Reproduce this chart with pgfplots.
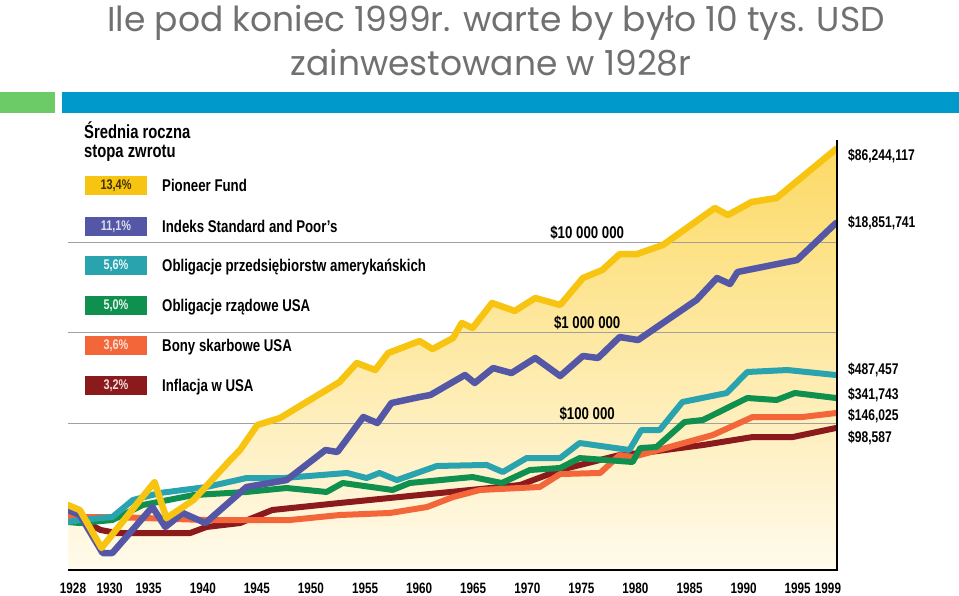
\documentclass[border=0pt]{standalone}
\usepackage{fontspec}
\usepackage{pgfplots}
\usepackage{pgfplotstable}
\pgfplotsset{compat=1.18}
\setmainfont{Liberation Sans}
\newfontfamily\cond[FakeStretch=0.78]{Liberation Sans}
\newfontfamily\titlefont{Poppins}

\definecolor{cPio}{HTML}{F7C511}
\definecolor{cSP}{HTML}{5457A6}
\definecolor{cCorp}{HTML}{29A3AE}
\definecolor{cGov}{HTML}{10904F}
\definecolor{cBill}{HTML}{F2663A}
\definecolor{cInf}{HTML}{8B1A1D}
\definecolor{fillTop}{HTML}{FCDA66}
\definecolor{fillBot}{HTML}{FFFAEC}
\definecolor{gridgray}{HTML}{A0A0A0}
\definecolor{titlegray}{HTML}{707070}
\definecolor{barGreen}{HTML}{6CCB66}
\definecolor{barBlue}{HTML}{0099CC}

% wartosc 10 000 USD z 1928 r. (skala log, odczyt z wykresu)
\pgfplotstableread{
year val
1928.0 12400
1929.1 10900
1931.1 4160
1936.0 22300
1937.1 8900
1939.6 14100
1943.0 39000
1943.9 50300
1945.5 95000
1947.6 113500
1953.1 283800
1954.7 460000
1956.4 385000
1957.6 593000
1960.5 805000
1961.7 657000
1963.6 869000
1964.4 1274000
1965.4 1122000
1967.2 2118000
1969.3 1730000
1971.2 2405000
1973.5 2014000
1975.6 4000000
1977.4 4910000
1979.0 7360000
1980.6 7360000
1983.0 9270000
1987.8 23770000
1989.0 19870000
1991.2 27700000
1993.5 30600000
1999.0 106600000
}\pio

\pgfplotstableread{
year val
1928.0 10940
1929.1 9620
1931.2 3660
1932.1 3660
1935.8 11800
1937.0 7100
1938.6 10140
1940.7 7850
1944.5 19630
1948.2 23400
1951.8 50300
1952.9 47800
1955.3 116500
1956.6 100000
1957.9 166300
1960.5 193700
1961.5 203900
1964.7 339000
1965.6 276700
1967.3 405000
1969.0 356600
1971.2 523000
1973.5 330600
1975.6 550000
1977.0 523000
1979.0 891000
1980.7 826000
1986.1 2286000
1988.0 4000000
1989.2 3436000
1989.9 4660000
1995.4 6320000
1999.0 16220000
}\sp

\pgfplotstableread{
year val
1928.0 8050
1929.1 8470
1932.1 9150
1934.0 14100
1936.5 16860
1940.8 19630
1944.5 24660
1947.9 24660
1953.8 28050
1955.6 24660
1956.8 28050
1958.4 23400
1962.1 33500
1966.7 34400
1968.2 28750
1970.4 41000
1973.5 41000
1975.3 60100
1979.9 50300
1981.0 83700
1982.7 83700
1984.8 170600
1988.9 214500
1990.8 366200
1994.5 385000
1999.0 339000
}\corp

\pgfplotstableread{
year val
1928.0 8050
1929.1 7850
1932.1 8470
1934.9 12400
1939.6 16000
1944.5 17300
1948.2 19130
1951.9 17300
1953.4 21730
1958.0 18200
1959.6 21730
1962.4 23400
1965.4 25300
1968.1 21730
1970.7 30250
1973.5 31840
1975.3 41000
1980.2 37070
1980.9 52900
1982.4 54300
1985.0 102600
1986.7 108000
1990.8 188900
1993.5 179500
1995.2 214500
1999.0 188900
}\gov

\pgfplotstableread{
year val
1928.0 9150
1932.1 9150
1940.8 8470
1948.5 8470
1953.1 9620
1957.8 10140
1961.2 11800
1962.4 13400
1963.6 15200
1966.1 18200
1971.6 19630
1973.5 27300
1977.2 28050
1979.0 44300
1980.2 42100
1983.6 54300
1987.6 73600
1991.3 116500
1995.9 116500
1999.0 128900
}\bill

\pgfplotstableread{
year val
1928.0 10140
1931.0 6580
1932.5 6090
1939.3 6090
1940.8 7100
1943.9 7850
1946.9 10940
1953.1 13060
1962.4 16860
1965.2 18200
1969.8 20650
1973.5 30250
1979.0 44300
1981.8 47800
1986.7 57100
1991.3 70000
1995.0 70000
1999.0 88100
}\inf

\begin{document}
\begin{tikzpicture}[x=1pt,y=1pt]
\useasboundingbox (0,0) rectangle (959,595);

% naglowek slajdu
\node[anchor=base, text=titlegray, font=\titlefont\fontsize{34.5}{34.5}\selectfont]
  at (496,563) {Ile pod koniec 1999r. warte by było 10 tys. USD};
\node[anchor=base, text=titlegray, font=\titlefont\fontsize{34.5}{34.5}\selectfont]
  at (491,519) {zainwestowane w 1928r};
\fill[barGreen] (0,482) rectangle (55,503);
\fill[barBlue] (62,482) rectangle (959,503);

\begin{axis}[
    at={(68pt,25pt)}, anchor=south west,
    scale only axis, width=768pt, height=430pt,
    xmin=1928, xmax=1999,
    ymode=log, ymin=2376, ymax=1.34e8,
    axis line style={draw=none},
    major tick length=0pt, minor tick length=0pt,
    tick style={draw=none},
    ytick={1e5,1e6,1e7}, yticklabels={}, minor ytick={},
    xtick={1928,1930,1935,1940,1945,1950,1955,1960,1965,1970,1975,1980,1985,1990,1995,1999},
    xticklabels={1928,\hspace*{30pt}1930,1935,1940,1945,1950,1955,1960,1965,1970,1975,1980,1985,1990,1995,1999\hspace*{26pt}},
    xticklabel style={font=\cond\bfseries\fontsize{15}{15}\selectfont, anchor=center, yshift=-18pt, xshift=5pt},
    clip mode=individual,
    every axis plot/.append style={line join=round, line cap=round},
  ]
  \addplot[draw=none, top color=fillTop, bottom color=fillBot]
    table[x=year, y=val] {\pio} |- (axis cs:1928,2376) -- cycle;

  \draw[gridgray, line width=0.8pt] (axis cs:1928,1e5) -- (axis cs:1999,1e5);
  \draw[gridgray, line width=0.8pt] (axis cs:1928,1e6) -- (axis cs:1999,1e6);
  \draw[gridgray, line width=0.8pt] (axis cs:1928,1e7) -- (axis cs:1999,1e7);

  \addplot[cInf, line width=6pt] table[x=year, y=val] {\inf};
  \addplot[cBill, line width=6pt] table[x=year, y=val] {\bill};
  \addplot[cGov, line width=6pt] table[x=year, y=val] {\gov};
  \addplot[cCorp, line width=6pt] table[x=year, y=val] {\corp};
  \addplot[cSP, line width=6.5pt] table[x=year, y=val] {\sp};
  \addplot[cPio, line width=6.5pt] table[x=year, y=val] {\pio};

  \node[anchor=base, font=\cond\bfseries\fontsize{17}{17}\selectfont, yshift=4pt]
    at (axis cs:1976,1e7) {\$10 000 000};
  \node[anchor=base, font=\cond\bfseries\fontsize{17}{17}\selectfont, yshift=4pt]
    at (axis cs:1976,1e6) {\$1 000 000};
  \node[anchor=base, font=\cond\bfseries\fontsize{17}{17}\selectfont, yshift=4pt]
    at (axis cs:1976,1e5) {\$100 000};
\end{axis}

% linie osi: dol i prawa krawedz
\draw[black, line width=2.2pt] (68,25) -- (837,25) -- (837,455);

% legenda
\node[anchor=base west, font=\cond\bfseries\fontsize{19}{19}\selectfont, inner sep=0] at (84,456) {Średnia roczna};
\node[anchor=base west, font=\cond\bfseries\fontsize{19}{19}\selectfont, inner sep=0] at (84,437) {stopa zwrotu};

\foreach \yc/\col/\tcol/\pct/\lab in {
    409/cPio/black!75!cPio/{13,4\%}/{Pioneer Fund},
    368/cSP/white!80!cSP/{11,1\%}/{Indeks Standard and Poor’s},
    329/cCorp/white!90!cCorp/{5,6\%}/{Obligacje przedsiębiorstw amerykańskich},
    289/cGov/white!90!cGov/{5,0\%}/{Obligacje rządowe USA},
    249/cBill/white!80!cBill/{3,6\%}/{Bony skarbowe USA},
    209/cInf/white!85!cInf/{3,2\%}/{Inflacja w USA}} {
  \fill[\col] (85,\yc-9.5) rectangle (147,\yc+9.5);
  \node[anchor=center, text=\tcol, font=\cond\bfseries\fontsize{14}{14}\selectfont] at (116,\yc) {\pct};
  \node[anchor=base west, inner sep=0, font=\cond\bfseries\fontsize{17}{17}\selectfont] at (162,\yc-6) {\lab};
}

% wartosci koncowe
\foreach \yc/\lab in {439/{\$86,244,117}, 372/{\$18,851,741}, 225/{\$487,457},
                      200/{\$341,743}, 179/{\$146,025}, 157/{\$98,587}} {
  \node[anchor=west, inner sep=0, font=\cond\bfseries\fontsize{15.5}{15.5}\selectfont] at (848,\yc) {\lab};
}
\end{tikzpicture}
\end{document}
